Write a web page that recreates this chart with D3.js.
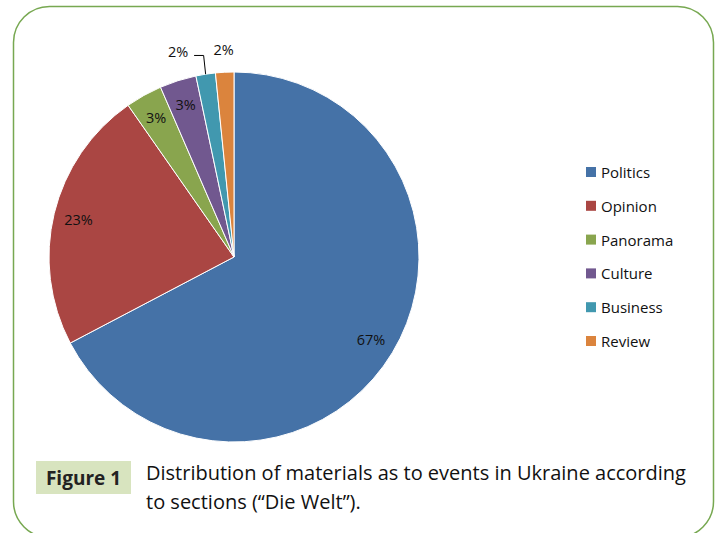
<!DOCTYPE html>
<html lang="en">
<head>
  <meta charset="UTF-8">
  <title>Die Welt sections pie</title>
  <script src="https://d3js.org/d3.v7.min.js"></script>
  <style>
    body { margin: 0; background: #fff; }
    svg { display: block; font-family: "Open Sans", "Liberation Sans", sans-serif; }
  </style>
</head>
<body>
  <div id="chart"></div>
  <script>
    // data
    const sections = ["Politics", "Opinion", "Panorama", "Culture", "Business", "Review"];
    const shares = [67.3, 23.0, 3.2, 3.2, 1.7, 1.6];
    const labels = ["67%", "23%", "3%", "3%", "2%", "2%"];
    const colors = ["#4572A7", "#AA4643", "#89A54E", "#71588F", "#4198AF", "#DB843D"];

    const W = 716, H = 533;
    const svg = d3.select("#chart").append("svg").attr("width", W).attr("height", H);

    // rounded green frame (bottom runs just off the picture)
    svg.append("rect")
      .attr("x", 13.5).attr("y", 6.5)
      .attr("width", 700).attr("height", 531)
      .attr("rx", 36).attr("ry", 36)
      .attr("fill", "none")
      .attr("stroke", "#77a851")
      .attr("stroke-width", 1.5);

    const cx = 234, cy = 257, r = 185;
    const data = sections.map((s, i) => ({ name: s, value: shares[i], label: labels[i], color: colors[i] }));

    const pie = d3.pie().value(d => d.value).sort(null);
    const arcs = pie(data);
    const arc = d3.arc().innerRadius(0).outerRadius(r);
    const inLabel = d3.arc().innerRadius(160).outerRadius(160);
    const outLabel = d3.arc().innerRadius(208).outerRadius(208);

    const g = svg.append("g").attr("transform", `translate(${cx},${cy})`);

    //slices
    g.selectAll("path.slice")
      .data(arcs)
      .enter().append("path")
      .attr("class", "slice")
      .attr("d", arc)
      .attr("fill", d => d.data.color)
      .attr("stroke", "#fff")
      .attr("stroke-width", 1);

    //labels: the big slices inside, the two tiny ones outside
    arcs.forEach((d, i) => {
      const small = d.data.value < 2;
      let [x, y] = small ? outLabel.centroid(d) : inLabel.centroid(d);
      if (i === 4) x -= 24; // pushed left so it does not collide with its neighbour
      g.append("text")
        .attr("x", x).attr("y", y)
        .attr("text-anchor", "middle")
        .attr("dominant-baseline", "central")
        .attr("font-size", 14.5)
        .attr("fill", "#111")
        .text(d.data.label);
      if (i === 4) {
        const a = (d.startAngle + d.endAngle) / 2;
        const ex = Math.sin(a) * r, ey = -Math.cos(a) * r;
        g.append("polyline")
          .attr("points", `${ex},${ey} ${ex - 2},${y + 4} ${x + 16},${y + 4}`)
          .attr("fill", "none")
          .attr("stroke", "#000")
          .attr("stroke-width", 1);
      }
    });

    //legend
    const legend = svg.selectAll("g.legend")
      .data(data)
      .enter().append("g")
      .attr("class", "legend")
      .attr("transform", (d, i) => `translate(586, ${172 + i * 33.8})`);
    legend.append("rect")
      .attr("x", 0).attr("y", -5)
      .attr("width", 10).attr("height", 10)
      .attr("fill", d => d.color);
    legend.append("text")
      .attr("x", 15).attr("y", 0)
      .attr("dominant-baseline", "central")
      .attr("font-size", 15)
      .attr("fill", "#111")
      .text(d => d.name);

    //caption
    svg.append("rect")
      .attr("x", 36).attr("y", 461)
      .attr("width", 95).attr("height", 33)
      .attr("fill", "#d8e4bf");
    svg.append("text")
      .attr("x", 83.5).attr("y", 478)
      .attr("text-anchor", "middle")
      .attr("dominant-baseline", "central")
      .attr("font-size", 19)
      .attr("font-weight", "bold")
      .attr("fill", "#222")
      .text("Figure 1");
    const cap = ["Distribution of materials as to events in Ukraine according",
      "to sections (\u201CDie Welt\u201D)."];
    svg.append("text")
      .attr("font-size", 20)
      .attr("fill", "#111")
      .selectAll("tspan")
      .data(cap)
      .enter().append("tspan")
      .attr("x", 146)
      .attr("y", (d, i) => 480 + i * 29)
      .text(d => d);
  </script>
</body>
</html>
